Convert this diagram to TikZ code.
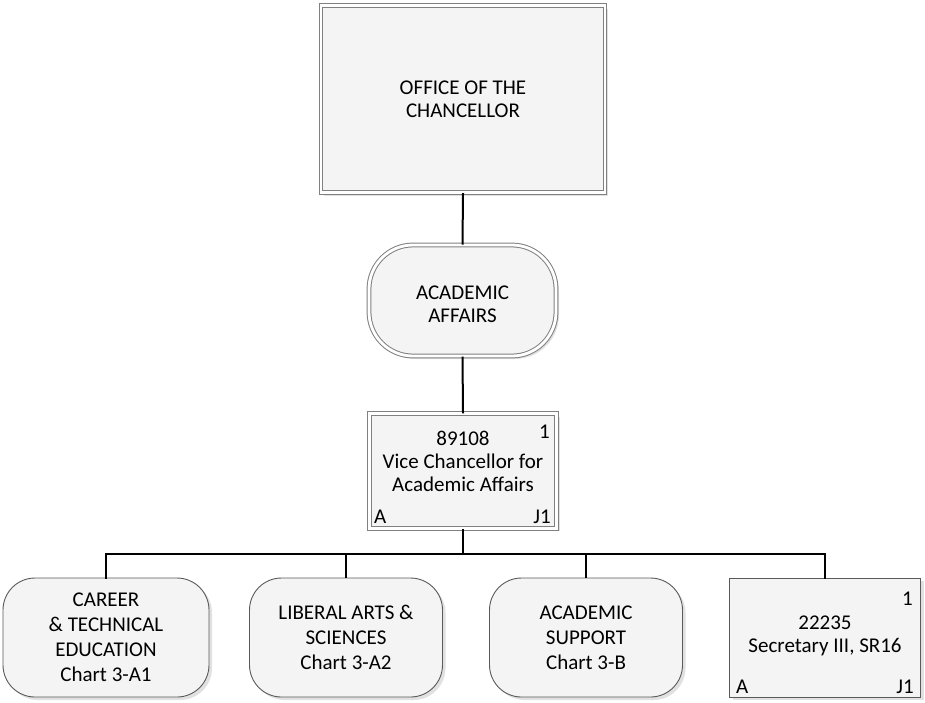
\documentclass[tikz,border=0pt]{standalone}
\usepackage{fontspec}
\setmainfont{Carlito}
\usetikzlibrary{shadows}
\definecolor{boxfill}{RGB}{244,244,244}
\definecolor{edgegray}{RGB}{128,128,128}
\definecolor{childedge}{RGB}{90,90,90}
\begin{document}
\begin{tikzpicture}[x=1pt,y=-1pt,
  base/.style={fill=boxfill, inner sep=0pt, align=center,
    font=\fontsize{21}{23}\selectfont,
    drop shadow={shadow xshift=3pt, shadow yshift=-3pt, fill=black!15, opacity=0.8}},
  dbl/.style={base, draw=edgegray, line width=1pt, double=white, double distance=2.8pt},
  child/.style={base, draw=childedge, line width=0.9pt, font=\fontsize{21}{25}\selectfont},
  lbl/.style={inner sep=0pt, font=\fontsize{21}{23}\selectfont},
  conn/.style={line width=2pt, black}]
\useasboundingbox (0,0) rectangle (925,702);

\node[dbl, minimum width=284pt, minimum height=187pt] (office) at (463,99) {OFFICE OF THE\\CHANCELLOR};
\node[dbl, rounded corners=44pt, minimum width=187pt, minimum height=111pt] (aa) at (462.5,300.5) {};
\node[lbl, align=center] (aatext) at (462.5,304) {ACADEMIC\\AFFAIRS};
\node[dbl, minimum width=187pt, minimum height=114.5pt] (vc) at (463,471) {};
\node[lbl, align=center] (vctext) at (463,461) {89108\\Vice Chancellor for\\Academic Affairs};
\node[lbl, anchor=east] (vcone) at (550,432) {1};
\node[lbl, anchor=west] (vca) at (374,517) {A};
\node[lbl, anchor=east] (vcj) at (551,517) {J1};

\node[child, rounded corners=32pt, minimum width=206pt, minimum height=119pt] (career) at (106,637.5) {CAREER\\\& TECHNICAL\\EDUCATION\\Chart 3-A1};
\node[child, rounded corners=32pt, minimum width=193pt, minimum height=119pt] (liberal) at (346,637.5) {LIBERAL ARTS \&\\SCIENCES\\Chart 3-A2};
\node[child, rounded corners=32pt, minimum width=193pt, minimum height=119pt] (support) at (586,637.5) {ACADEMIC\\SUPPORT\\Chart 3-B};
\node[child, minimum width=191pt, minimum height=119pt] (sec) at (825,637.5) {};
\node[lbl, align=center] (sectext) at (825,636) {22235\\Secretary III, SR16};
\node[lbl, anchor=east] (secone) at (913,599) {1};
\node[lbl, anchor=west] (seca) at (736,687) {A};
\node[lbl, anchor=east] (secj) at (914,687) {J1};

\coordinate (bar) at (463,554);
\draw[conn] (office.south) -- (aa.north);
\draw[conn] (aa.south) -- (vc.north);
\draw[conn] (vc.south) -- (bar);
\draw[conn, line cap=rect] (career.north) |- (bar);
\draw[conn] (liberal.north) -- (liberal.north |- bar);
\draw[conn] (support.north) -- (support.north |- bar);
\draw[conn, line cap=rect] (sec.north) |- (bar);
\end{tikzpicture}
\end{document}
